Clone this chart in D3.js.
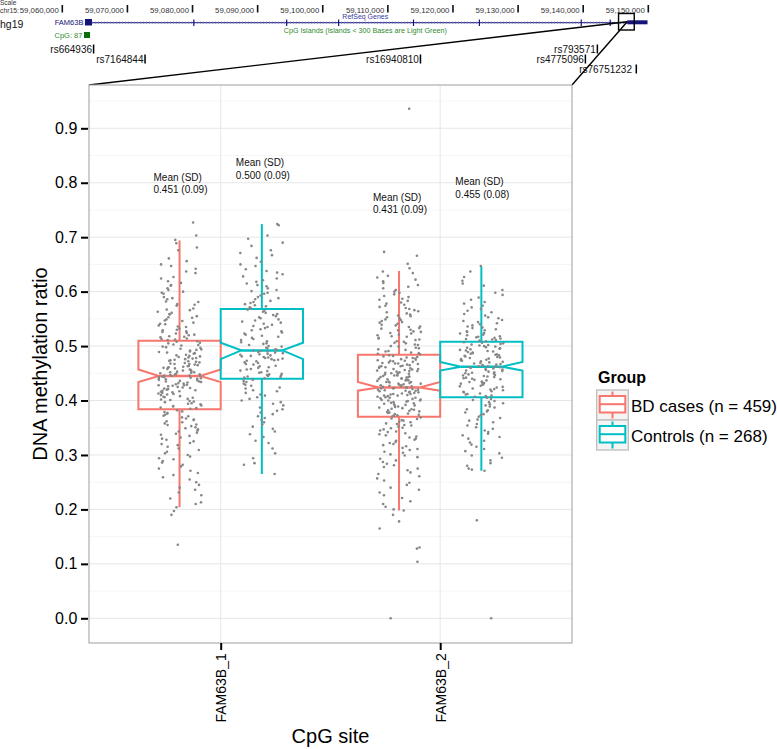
<!DOCTYPE html>
<html><head><meta charset="utf-8">
<script src="https://cdn.jsdelivr.net/npm/d3@7"></script>
<style>body{margin:0;background:#fff} svg{display:block;font-family:"Liberation Sans",Arial,Helvetica,sans-serif}</style>
</head><body><svg id="c" width="777" height="749"></svg>
<script>
// ---------------- data ----------------
const sites = ["FAM63B_1", "FAM63B_2"];
const groups = ["BD cases (n = 459)", "Controls (n = 268)"];
// order of box statistics: [site1 BD, site1 Controls, site2 BD, site2 Controls]
const whiskerLow  = [0.204, 0.265, 0.198, 0.271];
const q1          = [0.384, 0.440, 0.370, 0.406];
const median      = [0.445, 0.492, 0.424, 0.462];
const q3          = [0.510, 0.568, 0.484, 0.508];
const whiskerHigh = [0.694, 0.724, 0.638, 0.646];
const notchLow    = [0.434, 0.476, 0.418, 0.455];
const notchHigh   = [0.457, 0.506, 0.434, 0.471];
const meanSD = ["0.451 (0.09)", "0.500 (0.09)", "0.431 (0.09)", "0.455 (0.08)"];
const yTicks = [0.0, 0.1, 0.2, 0.3, 0.4, 0.5, 0.6, 0.7, 0.8, 0.9];

const pointsBD1 = [.727,.703,.695,.689,.681,.676,.661,.656,.650,.647,.642,.637,.634,.627,.624,.619,.616,.612,.611,.606,.603,.600,.598,.596,.590,.588,.586,.582,.581,.577,.576,.574,.569,.567,.566,.563,.561,.559,.558,.555,.553,.552,.549,.547,.546,.543,.541,.540,.538,.536,.535,.532,.530,.529,.527,.526,.524,.523,.521,.520,.518,.517,.516,.514,.513,.512,.511,
.509,.508,.506,.505,.503,.502,.501,.499,.498,.497,.495,.494,.493,.492,.490,.489,.488,.487,.486,.484,.483,.482,.481,.480,.479,.478,.477,.476,.475,.474,.473,.472,.471,.470,.469,.468,.467,.467,.466,.465,.464,.463,.462,.461,.460,.460,.459,.458,.457,.456,.455,.454,.453,.452,.452,.451,.450,.449,.448,.448,.447,.446,.446,.445,.445,.444,.443,.443,.442,.441,.440,.440,.439,.438,.437,.436,.435,.435,.434,.433,.432,.431,.430,.429,.428,.428,.427,.426,.425,.424,.423,.422,.421,.420,.419,.418,.417,.416,.415,.414,.413,.412,.411,.410,.408,.407,.406,.405,.403,.402,.401,.399,.398,.397,.395,.394,.393,.391,.390,.389,.387,.386,.385,
.382,.380,.379,.377,.376,.374,.372,.371,.369,.367,.365,.364,.362,.360,.358,.356,.355,.353,.351,.349,.347,.345,.343,.341,.339,.337,.335,.332,.330,.328,.325,.322,.320,.318,.315,.312,.309,.306,.303,.300,.297,.294,.292,.289,.286,.282,.279,.275,.271,.267,.263,.259,.255,.250,.245,.240,.236,.231,.226,.220,.213,.210,.204,.197,.190,.135];

const pointsCtrl1 = [.724,.722,.703,.697,.690,.684,.676,.671,.667,.662,.655,.650,.647,.641,.638,.635,.632,.628,.624,.621,.618,.615,.612,.610,.606,.603,.601,.598,.596,.593,.590,.588,.586,.583,.581,.579,.577,.575,.573,.571,.570,.569,
.567,.565,.563,.561,.559,.557,.555,.553,.551,.549,.547,.545,.543,.541,.539,.537,.535,.533,.531,.529,.527,.525,.523,.521,.519,.517,.515,.513,.511,.509,.507,.505,.504,.502,.500,.499,.497,.496,.494,.493,.492,.491,.490,.489,.488,.487,.486,.485,.484,.483,.482,.481,.480,.479,.478,.477,.476,.475,.474,.473,.472,.470,.469,.467,.466,.464,.463,.461,.460,.458,.457,.455,.454,.452,.451,.449,.448,.447,.446,.445,.444,.443,.442,.441,
.438,.436,.434,.431,.429,.427,.424,.422,.419,.417,.414,.411,.409,.406,.403,.400,.397,.394,.391,.387,.384,.381,.378,.375,.371,.368,.364,.360,.356,.352,.348,.343,.338,.333,.326,.322,.312,.303,.294,.285,.282,.265];

const pointsBD2 = [.936,.673,.666,.651,.643,.637,.634,.629,.626,.622,.619,.616,.612,.609,.606,.603,.600,.598,.595,.592,.590,.587,.585,.583,.580,.578,.576,.574,.572,.570,.568,.566,.564,.562,.560,.558,.556,.555,.553,.551,.549,.548,.546,.544,.543,.541,.539,.538,.536,.535,.533,.532,.530,.529,.527,.526,.524,.523,.521,.520,.518,.517,.515,.514,.512,.511,.509,.508,.506,.505,.503,.502,.500,.499,.497,.496,.494,.493,.491,.490,.488,.487,.486,.485,
.483,.482,.481,.480,.479,.478,.477,.476,.475,.474,.473,.473,.472,.471,.470,.469,.468,.468,.467,.466,.465,.464,.463,.463,.462,.461,.460,.459,.458,.458,.457,.456,.455,.454,.454,.453,.452,.451,.450,.450,.449,.448,.447,.446,.446,.445,.444,.443,.443,.442,.441,.440,.440,.439,.438,.437,.437,.436,.435,.434,.434,.433,.432,.431,.431,.430,.429,.428,.428,.427,.426,.426,.425,.424,.424,.423,.422,.422,.421,.420,.420,.419,.418,.418,.417,.416,.415,.415,.414,.413,.412,.412,.411,.410,.409,.409,.408,.407,.406,.405,.405,.404,.403,.402,.401,.400,.400,.399,.398,.397,.396,.395,.394,.393,.392,.391,.390,.389,.388,.387,.386,.385,.384,.383,.382,.381,.380,.379,.378,.377,.376,.375,.374,.373,.372,.371,
.369,.367,.366,.364,.363,.361,.360,.358,.357,.355,.354,.352,.350,.349,.347,.345,.343,.342,.340,.338,.336,.334,.332,.330,.328,.326,.324,.322,.320,.318,.316,.313,.311,.309,.306,.304,.301,.299,.296,.293,.290,.287,.284,.281,.278,.275,.272,.268,.265,.261,.257,.253,.249,.245,.240,.236,.231,.226,.221,.215,.210,.205,.200,.198,.190,.178,.165,.130,.128,.104,.000];

const pointsCtrl2 = [.647,.637,.627,.620,.615,.611,.603,.598,.594,.589,.585,.581,.578,.574,.571,.568,.565,.562,.559,.556,.553,.551,.548,.546,.544,.542,.540,.538,.536,.534,.533,.531,.529,.527,.526,.524,.523,.521,.520,.518,.517,.516,.515,.514,.513,.512,.511,.510,.509,
.507,.506,.505,.504,.503,.502,.501,.500,.499,.498,.497,.496,.495,.494,.493,.492,.491,.490,.489,.488,.487,.486,.485,.484,.483,.482,.481,.480,.479,.478,.477,.476,.475,.474,.473,.472,.471,.470,.469,.468,.467,.466,.465,.464,.463,.463,.462,.461,.461,.460,.459,.458,.457,.456,.455,.454,.453,.452,.451,.450,.449,.448,.447,.446,.445,.444,.443,.442,.441,.440,.439,.438,.437,.435,.434,.433,.432,.431,.430,.429,.427,.426,.425,.424,.422,.421,.420,.419,.417,.416,.415,.413,.412,.411,.409,.408,.407,
.405,.403,.401,.399,.397,.395,.393,.391,.389,.387,.384,.382,.380,.378,.375,.373,.370,.368,.365,.363,.360,.357,.354,.351,.348,.345,.342,.339,.336,.333,.330,.326,.323,.319,.315,.311,.307,.303,.299,.295,.290,.285,.280,.275,.273,.271,.180,.000];

// genome browser track (UCSC, hg19 chr15)
const genomeTicks = [59060000,59070000,59080000,59090000,59100000,59110000,59120000,59130000,59140000,59150000];
const geneBody = [59064555, 59146760];
const exonMarks = [59080200, 59094460, 59102440, 59113940, 59124060, 59139700, 59144150];
const utrBlock = [59063480, 59064555];
const codingBlock = [59146760, 59149880];
const cpgIsland = [59063330, 59064260];
const snpIds = ["rs664936", "rs7164844", "rs16940810", "rs793571", "rs4775096", "rs76751232 "];
const snpPos = [59064800, 59072700, 59115000, 59142170, 59140330, 59148150];
const snpRow = [0, 1, 1, 0, 1, 2];
const zoomWindow = [59145430, 59147840];
const cpgSitePos = 59146760;

// ---------------- layout ----------------
const svg = d3.select("#c");
const P = {l: 89, r: 572, t: 85, b: 643};
const colors = ["#F8766D", "#00BFC4"];
const y = d3.scaleLinear().domain([0, 0.9]).range([618.3, 128.3]);
const x = d3.scaleLinear().domain([1, 2]).range([220.7, 440.2]);
const dodge = 0.1875, halfBox = 0.1875, jitterW = 0.1;
const boxes = [];
sites.forEach((s, si) => groups.forEach((g, gi) => boxes.push({si, gi, k: si * 2 + gi})));
const centerX = b => x(b.si + 1 + (b.gi === 0 ? -dodge : dodge));

// ---- genome browser ----
const gx = d3.scaleLinear().domain([59060000, 59150000]).range([62.3, 648.3]);
const G = svg.append("g");
G.append("text").attr("x", 0).attr("y", 5.3).attr("font-size", 6.5).attr("fill", "#333").text("Scale");
G.append("text").attr("x", 0).attr("y", 12.6).attr("font-size", 6.8).attr("fill", "#333").text("chr15:");
genomeTicks.forEach(t => {
  G.append("rect").attr("x", gx(t) - 0.8).attr("y", 5).attr("width", 1.6).attr("height", 7.5).attr("fill", "#111");
  G.append("text").attr("x", gx(t) - 3.5).attr("y", 12.5).attr("text-anchor", "end").attr("font-size", 7.8).attr("fill", "#333").text(d3.format(",")(t));
});
G.append("text").attr("x", 0).attr("y", 28).attr("font-size", 10.5).attr("fill", "#111").text("hg19");
G.append("text").attr("x", gx(d3.mean(genomeTicks)) + 10).attr("y", 19.2).attr("text-anchor", "middle").attr("font-size", 7).attr("fill", "#3a3aa0").text("RefSeq Genes");
G.append("text").attr("x", gx(d3.mean(genomeTicks)) + 10).attr("y", 33).attr("text-anchor", "middle").attr("font-size", 7.2).attr("fill", "#2f8a2f").text("CpG Islands (Islands < 300 Bases are Light Green)");
G.append("text").attr("x", gx(utrBlock[0]) - 1.5).attr("y", 25).attr("text-anchor", "end").attr("font-size", 7.5).attr("fill", "#141478").text("FAM63B");
G.append("line").attr("x1", gx(geneBody[0])).attr("x2", gx(geneBody[1])).attr("y1", 22.7).attr("y2", 22.7).attr("stroke", "#141478").attr("stroke-width", 1);
G.append("line").attr("x1", gx(geneBody[0])).attr("x2", gx(geneBody[1])).attr("y1", 22.7).attr("y2", 22.7).attr("stroke", "#7a7ac0").attr("stroke-width", 2.4).attr("stroke-dasharray", "1,2").attr("opacity", 0.6);
exonMarks.forEach(e => G.append("line").attr("x1", gx(e)).attr("x2", gx(e)).attr("y1", 19.5).attr("y2", 26).attr("stroke", "#141478").attr("stroke-width", 1.2));
G.append("rect").attr("x", gx(utrBlock[0])).attr("y", 19).attr("width", gx(utrBlock[1]) - gx(utrBlock[0])).attr("height", 6.5).attr("fill", "#141478");
G.append("rect").attr("x", gx(codingBlock[0])).attr("y", 20.3).attr("width", gx(codingBlock[1]) - gx(codingBlock[0])).attr("height", 4).attr("fill", "#141478");
G.append("rect").attr("x", gx(cpgIsland[0])).attr("y", 32).attr("width", gx(cpgIsland[1]) - gx(cpgIsland[0])).attr("height", 6).attr("fill", "#0a6e0a");
G.append("text").attr("x", gx(cpgIsland[0]) - 1.5).attr("y", 38).attr("text-anchor", "end").attr("font-size", 7.5).attr("fill", "#2f8a2f").text("CpG: 87");
const rowY = [52.5, 62.5, 72.5];
snpIds.forEach((id, i) => {
  const px = gx(snpPos[i]);
  G.append("rect").attr("x", px - 0.7).attr("y", rowY[snpRow[i]] - 8).attr("width", 1.5).attr("height", 9).attr("fill", "#000");
  G.append("text").attr("x", px - 1.5).attr("y", rowY[snpRow[i]]).attr("text-anchor", "end").attr("font-size", 10).attr("fill", "#111").attr("xml:space", "preserve").text(id);
});
G.append("rect").attr("x", gx(zoomWindow[0])).attr("y", 13.5).attr("width", gx(zoomWindow[1]) - gx(zoomWindow[0])).attr("height", 16.5).attr("fill", "none").attr("stroke", "#000").attr("stroke-width", 1.4);
[[P.l, P.t], [P.r, P.t]].forEach(c => G.append("line").attr("x1", gx(cpgSitePos)).attr("y1", 21.7).attr("x2", c[0]).attr("y2", c[1]).attr("stroke", "#000").attr("stroke-width", 1.4));

// ---- panel ----
svg.append("rect").attr("x", P.l).attr("y", P.t).attr("width", P.r - P.l).attr("height", P.b - P.t).attr("fill", "#fff");
const minor = d3.range(-0.05, 1.0, 0.1).map(v => +v.toFixed(2)).filter(v => y(v) > P.t && y(v) < P.b);
svg.append("g").selectAll("line").data(minor).join("line")
  .attr("x1", P.l).attr("x2", P.r).attr("y1", d => y(d)).attr("y2", d => y(d)).attr("stroke", "#f2f2f2").attr("stroke-width", 0.7);
svg.append("g").selectAll("line").data(yTicks).join("line")
  .attr("x1", P.l).attr("x2", P.r).attr("y1", d => y(d)).attr("y2", d => y(d)).attr("stroke", "#e6e6e6").attr("stroke-width", 1);
svg.append("g").selectAll("line").data([1, 2]).join("line")
  .attr("x1", d => x(d)).attr("x2", d => x(d)).attr("y1", P.t).attr("y2", P.b).attr("stroke", "#e6e6e6").attr("stroke-width", 1);

// boxes
const boxG = svg.append("g").attr("fill", "none").attr("stroke-width", 2);
boxes.forEach(b => {
  const k = b.k, cx = centerX(b), hw = x(1 + halfBox) - x(1);
  const xmin = cx - hw, xmax = cx + hw, ind = hw * 0.5;
  const col = colors[b.gi];
  boxG.append("line").attr("x1", cx).attr("x2", cx).attr("y1", y(q3[k])).attr("y2", y(whiskerHigh[k])).attr("stroke", col);
  boxG.append("line").attr("x1", cx).attr("x2", cx).attr("y1", y(q1[k])).attr("y2", y(whiskerLow[k])).attr("stroke", col);
  const pts = [[xmin, y(q3[k])], [xmin, y(notchHigh[k])], [xmin + ind, y(median[k])], [xmin, y(notchLow[k])], [xmin, y(q1[k])],
               [xmax, y(q1[k])], [xmax, y(notchLow[k])], [xmax - ind, y(median[k])], [xmax, y(notchHigh[k])], [xmax, y(q3[k])]];
  boxG.append("path").attr("d", d3.line()(pts) + "Z").attr("stroke", col).attr("stroke-linejoin", "miter");
  boxG.append("line").attr("x1", xmin + ind).attr("x2", xmax - ind).attr("y1", y(median[k])).attr("y2", y(median[k])).attr("stroke", col).attr("stroke-width", 2.4);
});

// jittered points (deterministic hash for horizontal jitter only)
const allPoints = [pointsBD1, pointsCtrl1, pointsBD2, pointsCtrl2];
const hash = (i, k) => { const s = Math.sin(i * 12.9898 + k * 78.233 + 1.7) * 43758.5453; return s - Math.floor(s); };
const ptG = svg.append("g").attr("fill", "#878787");
boxes.forEach(b => {
  const cxu = b.si + 1 + (b.gi === 0 ? -dodge : dodge);
  allPoints[b.k].forEach((v, i) => {
    const u = hash(i, b.k) * 2 - 1;
    ptG.append("circle").attr("cx", x(cxu + u * jitterW)).attr("cy", y(v)).attr("r", 1.3);
  });
});

// annotations
const labelY = [0.804, 0.830, 0.767, 0.795];
const annG = svg.append("g").attr("font-size", 10).attr("fill", "#111");
boxes.forEach(b => {
  const lx = centerX(b) - 26;
  annG.append("text").attr("x", lx).attr("y", y(labelY[b.k])).text("Mean (SD)");
  annG.append("text").attr("x", lx).attr("y", y(labelY[b.k]) + 12.3).text(meanSD[b.k]);
});

// panel border
svg.append("rect").attr("x", P.l).attr("y", P.t).attr("width", P.r - P.l).attr("height", P.b - P.t).attr("fill", "none").attr("stroke", "#a6a6a6").attr("stroke-width", 1.1);

// axes
const yAx = svg.append("g").attr("transform", `translate(${P.l - 1},0)`)
  .call(d3.axisLeft(y).tickValues(yTicks).tickFormat(d3.format(".1f")).tickSize(7).tickPadding(3.7));
yAx.select(".domain").remove();
yAx.selectAll(".tick line").attr("stroke", "#000").attr("stroke-width", 2);
yAx.selectAll(".tick text").attr("font-size", 16).attr("fill", "#000").attr("font-family", null);

const xAx = svg.append("g").attr("transform", `translate(0,${P.b})`)
  .call(d3.axisBottom(x).tickValues([1, 2]).tickFormat(d => sites[d - 1]).tickSize(7));
xAx.select(".domain").remove();
xAx.selectAll(".tick line").attr("stroke", "#000").attr("stroke-width", 2);
xAx.selectAll(".tick text").attr("font-size", 14).attr("fill", "#000").attr("font-family", null)
  .attr("transform", "rotate(-90)").attr("x", -10.3).attr("y", 0).attr("dy", "0.36em").attr("text-anchor", "end");

svg.append("text").attr("transform", `translate(47,${(P.t + P.b) / 2}) rotate(-90)`).attr("text-anchor", "middle").attr("font-size", 20).attr("fill", "#000").text("DNA methylation ratio");
svg.append("text").attr("x", (P.l + P.r) / 2).attr("y", 743).attr("text-anchor", "middle").attr("font-size", 20).attr("fill", "#000").text("CpG site");

// legend
const L = svg.append("g");
L.append("text").attr("x", 598).attr("y", 383.3).attr("font-size", 16).attr("font-weight", "bold").attr("fill", "#000").text("Group");
groups.forEach((g, i) => {
  const ky = 390 + i * 30;
  L.append("rect").attr("x", 596.7).attr("y", ky).attr("width", 31.6).attr("height", 30).attr("fill", "#f4f4f4").attr("stroke", "#bdbdbd").attr("stroke-width", 1.3);
  const cx = 612.5;
  L.append("line").attr("x1", cx).attr("x2", cx).attr("y1", ky + 1.5).attr("y2", ky + 28.5).attr("stroke", colors[i]).attr("stroke-width", 2);
  L.append("rect").attr("x", 599.7).attr("y", ky + 6).attr("width", 25.6).attr("height", 16.5).attr("fill", "#fff").attr("stroke", colors[i]).attr("stroke-width", 2);
  L.append("line").attr("x1", 599.7).attr("x2", 625.3).attr("y1", ky + 14.2).attr("y2", ky + 14.2).attr("stroke", colors[i]).attr("stroke-width", 2);
  L.append("text").attr("x", 631).attr("y", ky + 21.7).attr("font-size", 17).attr("fill", "#000").text(g);
});
</script></body></html>
